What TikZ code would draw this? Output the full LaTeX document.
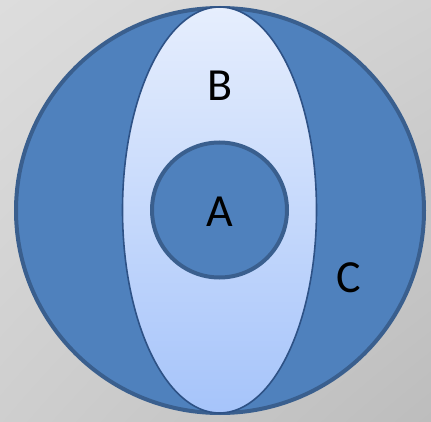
\documentclass[tikz,border=0pt]{standalone}
\usepackage{fontspec}
\setmainfont{Carlito}
\usetikzlibrary{shadings,shapes.geometric}
\definecolor{bgA}{HTML}{DDDDDD}
\definecolor{bgB}{HTML}{BDBDBD}
\definecolor{cfill}{HTML}{4F81BD}
\definecolor{cline}{HTML}{3A5F8E}
\definecolor{etop}{HTML}{E6EEFD}
\definecolor{ebot}{HTML}{A6C4FA}
\definecolor{eline}{HTML}{2E5286}
\tikzset{
  lbl/.style={font=\fontsize{46}{46}\selectfont, text=black, inner sep=0pt},
  bigc/.style={fill=cfill, draw=cline, line width=4pt},
  ell/.style={top color=etop, bottom color=ebot, draw=eline, line width=1.6pt},
  smallc/.style={fill=cfill, draw=cline, line width=4pt}
}
\begin{document}
\begin{tikzpicture}[x=1pt,y=1pt]
\useasboundingbox (0,0) rectangle (431,421);
\shade[upper left=bgA, upper right=bgA!65!bgB, lower left=bgA!55!bgB, lower right=bgB] (0,0) rectangle (431,421);
\draw[bigc] (220,210.5) ellipse [x radius=204, y radius=202.5];
\draw[ell] (219.5,211) ellipse [x radius=97, y radius=203];
\draw[smallc] (219.5,211) circle [radius=67.5];
\node[lbl] (B) at (220,335) {B};
\node[lbl] (A) at (220,209) {A};
\node[lbl] (C) at (349,143) {C};
\end{tikzpicture}
\end{document}
